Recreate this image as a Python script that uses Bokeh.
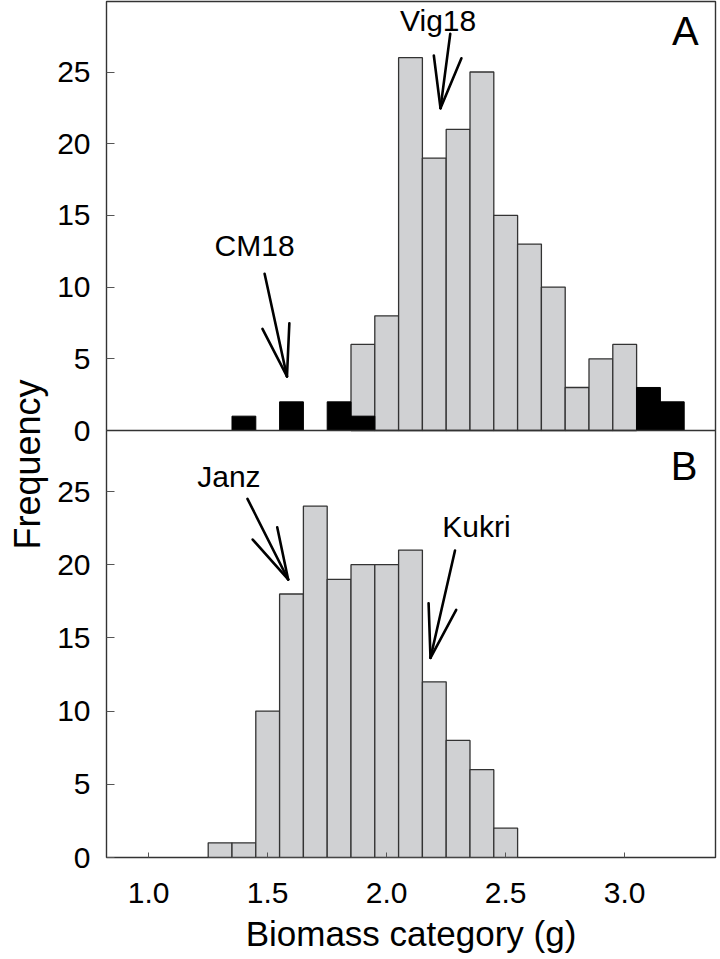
from bokeh.plotting import figure
from bokeh.models import Range1d, FixedTicker, Span, Label, PrintfTickFormatter
from bokeh.embed import file_html
from bokeh.resources import INLINE

# ---------------- data ----------------
bin_width = 0.1
# panel A: population (grey) and parents / checks (black)
a_gray_x = [1.9, 2.0, 2.1, 2.2, 2.3, 2.4, 2.5, 2.6, 2.7, 2.8, 2.9, 3.0]
a_gray_n = [6, 8, 26, 19, 21, 25, 15, 13, 10, 3, 5, 6]
a_black_x = [1.4, 1.6, 1.8, 1.9, 3.1, 3.2]
a_black_n = [1, 2, 2, 1, 3, 2]
# panel B
b_x = [1.3, 1.4, 1.5, 1.6, 1.7, 1.8, 1.9, 2.0, 2.1, 2.2, 2.3, 2.4, 2.5]
b_n = [1, 1, 10, 18, 24, 19, 20, 20, 21, 12, 8, 6, 2]

y_ticks = [0, 5, 10, 15, 20, 25]
x_ticks = [1.0, 1.5, 2.0, 2.5, 3.0]

# arrow annotations (data coordinates of their own panel)
ann_text = ["Vig18", "CM18", "Janz", "Kukri"]
ann_panel = ["A", "A", "B", "B"]
ann_text_x = [2.216, 1.445, 1.337, 2.377]
ann_text_y = [27.78, 12.09, 25.18, 21.77]
ann_tail_x = [2.267, 1.487, 1.415, 2.287]
ann_tail_y = [27.66, 10.93, 24.50, 20.97]
ann_tip_x = [2.226, 1.581, 1.586, 2.184]
ann_tip_y = [22.48, 3.77, 18.99, 13.64]
ann_barb1_x = [2.198, 1.478, 1.437, 2.176]
ann_barb1_y = [26.15, 7.09, 21.72, 17.37]
ann_barb2_x = [2.314, 1.591, 1.540, 2.292]
ann_barb2_y = [25.96, 7.48, 22.56, 16.92]

panel_letters = ["A", "B"]
panel_letter_x = [3.255, 3.25]
panel_letter_y = [26.78, 25.75]

# ---------------- layout ----------------
FONT = "Liberation Sans"
W, H = 718, 958
BL, BR, BT, BB = 106, 3, 1, 101
frame_h = H - BT - BB            # 856
split = 429                      # px from frame top to the panel-A baseline
sA = 14.34                       # px per count, panel A
sB = 14.64                       # px per count, panel B

a_range = Range1d(-(frame_h - split) / sA, split / sA)
b_range = Range1d(0, frame_h / sB)

p = figure(width=W, height=H, output_backend="svg", toolbar_location=None,
           x_range=Range1d(0.8227, 3.3815), y_range=b_range,
           min_border_left=BL, min_border_right=BR, min_border_top=BT,
           min_border_bottom=BB)
p.extra_y_ranges = {"A": a_range}
p.grid.visible = False
p.background_fill_color = "white"
p.border_fill_color = "white"
p.outline_line_color = "#333333"
p.outline_line_width = 1.4

gray = "#d0d1d3"
edge = "#333333"

# panel B bars
p.vbar(x=b_x, width=bin_width, top=b_n, bottom=0,
       fill_color=gray, line_color=edge, line_width=1.3)
# panel A bars
p.vbar(x=a_gray_x, width=bin_width, top=a_gray_n, bottom=0, y_range_name="A",
       fill_color=gray, line_color=edge, line_width=1.3)
p.vbar(x=a_black_x, width=bin_width, top=a_black_n, bottom=0, y_range_name="A",
       fill_color="black", line_color="black", line_width=1)

# separator (panel-A baseline)
p.add_layout(Span(location=0, dimension="width", y_range_name="A",
                  line_color=edge, line_width=1.4))

# arrows
for i, t in enumerate(ann_text):
    rn = "A" if ann_panel[i] == "A" else "default"
    x0 = [ann_tail_x[i], ann_barb1_x[i], ann_barb2_x[i]]
    y0 = [ann_tail_y[i], ann_barb1_y[i], ann_barb2_y[i]]
    x1 = [ann_tip_x[i]] * 3
    y1 = [ann_tip_y[i]] * 3
    p.segment(x0=x0, y0=y0, x1=x1, y1=y1, y_range_name=rn,
              line_color="black", line_width=2.6, line_cap="round")
    p.add_layout(Label(x=ann_text_x[i], y=ann_text_y[i], text=t,
                       y_range_name=rn, y_offset=12, text_align="center",
                       text_baseline="alphabetic", text_font=FONT,
                       text_font_size="30px", text_color="black"))

for i, t in enumerate(panel_letters):
    rn = "A" if t == "A" else "default"
    p.add_layout(Label(x=panel_letter_x[i], y=panel_letter_y[i], text=t,
                       y_range_name=rn, y_offset=15, text_align="center",
                       text_baseline="alphabetic", text_font=FONT,
                       text_font_size="40px", text_color="black"))

# y axis: ticks of both panels on one axis
def a_to_b(v):
    return b_range.start + (v - a_range.start) * (b_range.end - b_range.start) / (a_range.end - a_range.start)

ticks = []
overrides = {}
for t in y_ticks:
    ticks.append(float(t))
    overrides[float(t)] = str(t)
for t in y_ticks:
    v = a_to_b(t)
    ticks.append(v)
    overrides[v] = str(t)

yax = p.yaxis[0]
yax.ticker = FixedTicker(ticks=ticks)
yax.major_label_overrides = overrides
yax.axis_line_color = None
yax.major_tick_in = 8
yax.major_tick_out = 0
yax.minor_tick_line_color = None
yax.major_tick_line_color = "#555555"
yax.major_label_standoff = 16
yax.major_label_text_font = FONT
yax.major_label_text_font_size = "30px"
yax.major_label_text_color = "black"
# shared title of both panels; trailing no-break spaces move it down a little
yax.axis_label = "Frequency" + "\u00a0" * 7
yax.axis_label_standoff = 6
yax.axis_label_text_font = FONT
yax.axis_label_text_font_size = "36px"
yax.axis_label_text_font_style = "normal"
yax.axis_label_text_color = "black"

xax = p.xaxis[0]
xax.ticker = FixedTicker(ticks=x_ticks)
xax.formatter = PrintfTickFormatter(format="%.1f")
xax.axis_line_color = None
xax.major_tick_in = 5
xax.major_tick_out = 0
xax.minor_tick_line_color = None
xax.major_tick_line_color = "#555555"
xax.major_label_standoff = 25
xax.major_label_text_font = FONT
xax.major_label_text_font_size = "30px"
xax.major_label_text_color = "black"
xax.axis_label = "Biomass category (g)"
xax.axis_label_text_font = FONT
xax.axis_label_text_font_size = "35px"
xax.axis_label_text_font_style = "normal"
xax.axis_label_text_color = "black"
xax.axis_label_standoff = 8

open("out.html", "w").write(file_html(p, INLINE))
